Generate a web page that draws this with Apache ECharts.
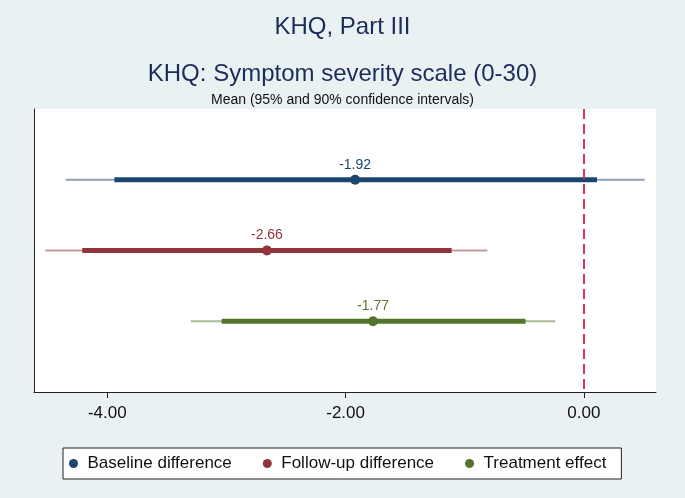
<!DOCTYPE html>
<html>
<head>
<meta charset="utf-8">
<script src="https://cdn.jsdelivr.net/npm/echarts@6/dist/echarts.min.js"></script>
<style>
html,body{margin:0;padding:0;background:#e9f1f3;}
#chart{width:685px;height:498px;}
</style>
</head>
<body>
<div id="chart"></div>
<script>
// ---- data ----
const groups = ['Baseline difference', 'Follow-up difference', 'Treatment effect'];
const means = [-1.92, -2.66, -1.77];
const lo95 = [-4.35, -4.52, -3.30];
const hi95 = [0.51, -0.81, -0.24];
const lo90 = [-3.94, -4.21, -3.04];
const hi90 = [0.11, -1.11, -0.49];
const xTicks = [-4, -2, 0];
const refLine = 0;

const colors = ['#1a476f', '#90353b', '#55752f'];
const FONT = '"Liberation Sans", Arial, sans-serif';

const series = [];
groups.forEach((g, i) => {
  const row = i + 1;
  series.push({
    name: g + ' 95%', type: 'line', silent: true, symbol: 'none',
    data: [[lo95[i], row], [hi95[i], row]],
    lineStyle: { color: colors[i], width: 1.8, opacity: 0.5, cap: 'butt' },
    z: 2
  });
  series.push({
    name: g + ' 90%', type: 'line', silent: true, symbol: 'none',
    data: [[lo90[i], row], [hi90[i], row]],
    lineStyle: { color: colors[i], width: 5, cap: 'butt' },
    z: 3
  });
});
groups.forEach((g, i) => {
  series.push({
    name: g, type: 'scatter', symbol: 'circle', symbolSize: 10,
    data: [[means[i], i + 1]],
    itemStyle: { color: colors[i], opacity: 1 },
    label: {
      show: true, position: 'top', distance: 3,
      formatter: p => p.value[0].toFixed(2),
      color: colors[i], fontSize: 14, fontFamily: FONT
    },
    z: 4
  });
});
series.push({
  name: 'ref', type: 'line', data: [], silent: true,
  markLine: {
    silent: true, symbol: 'none', label: { show: false },
    lineStyle: { color: '#d6375a', width: 2, type: [10, 5], opacity: 1 },
    data: [{ xAxis: refLine }]
  },
  z: 5
});

const chart = echarts.init(document.getElementById('chart'), null, { renderer: 'canvas' });
chart.setOption({
  backgroundColor: '#e9f1f3',
  animation: false,
  title: [
    { text: 'KHQ, Part III', left: 'center', top: 15, padding: 0,
      textStyle: { fontFamily: FONT, fontSize: 24, fontWeight: 'normal', color: '#1c2b5a' } },
    { text: 'KHQ: Symptom severity scale (0-30)', left: 'center', top: 62, padding: 0,
      textStyle: { fontFamily: FONT, fontSize: 24, fontWeight: 'normal', color: '#1c2b5a' } },
    { text: 'Mean (95% and 90% confidence intervals)', left: 'center', top: 93, padding: 0,
      textStyle: { fontFamily: FONT, fontSize: 14, fontWeight: 'normal', color: '#111' } }
  ],
  grid: { left: 34, right: 29, top: 109, bottom: 106, show: true, backgroundColor: '#ffffff', borderWidth: 0, containLabel: false },
  xAxis: {
    type: 'value', min: -4.615, max: 0.605,
    axisLine: { show: true, onZero: false, lineStyle: { color: '#222', width: 1 } },
    axisTick: { show: true, length: 6, customValues: xTicks, lineStyle: { color: '#222' } },
    axisLabel: { customValues: xTicks, margin: 13, fontFamily: FONT, fontSize: 17, color: '#111',
      formatter: v => v.toFixed(2) },
    splitLine: { show: false }
  },
  yAxis: {
    type: 'value', min: 0, max: 4, inverse: true,
    axisLine: { show: true, onZero: false, lineStyle: { color: '#222', width: 1 } },
    axisTick: { show: false }, axisLabel: { show: false }, splitLine: { show: false }
  },
  legend: {
    data: groups.map(g => ({ name: g, icon: 'circle' })),
    left: 63, top: 448, orient: 'horizontal',
    itemWidth: 18, itemHeight: 9, itemGap: 31,
    padding: [7, 15, 7, 6],
    backgroundColor: '#ffffff', borderColor: '#222', borderWidth: 1, borderRadius: 0,
    textStyle: { fontFamily: FONT, fontSize: 17, color: '#111' },
    selectedMode: false
  },
  series: series
});
</script>
</body>
</html>
